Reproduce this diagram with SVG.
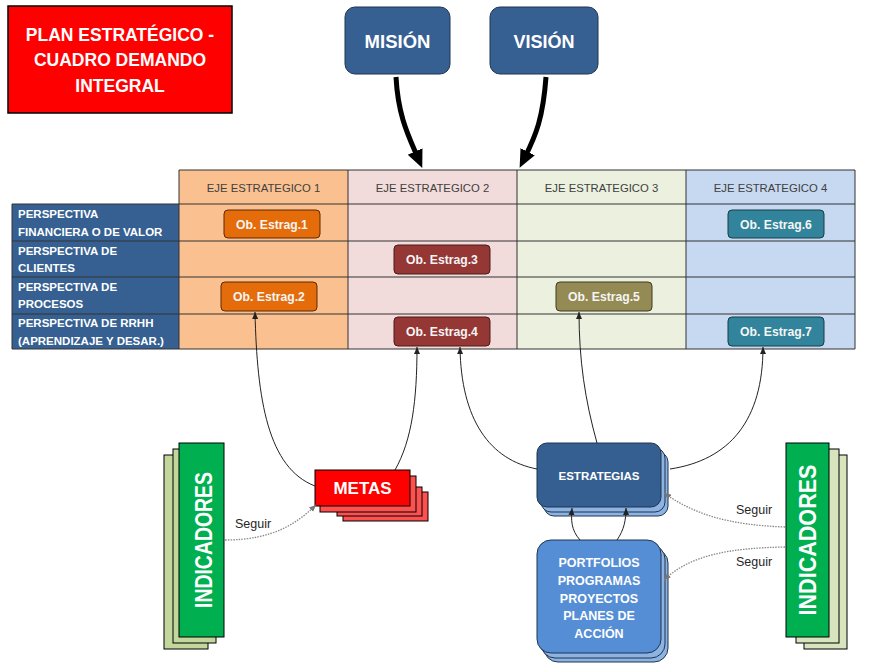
<svg xmlns="http://www.w3.org/2000/svg" width="872" height="668" viewBox="0 0 872 668">
<defs>
<marker id="big" markerUnits="userSpaceOnUse" markerWidth="18" markerHeight="18" viewBox="0 0 18 18" refX="6" refY="9" orient="auto"><path d="M0,1 L18,9 L0,17 z" fill="#000"/></marker>
<marker id="sm" markerUnits="userSpaceOnUse" markerWidth="7" markerHeight="7" viewBox="0 0 7 7" refX="7" refY="3.5" orient="auto"><path d="M0,0.5 L7,3.5 L0,6.5 z" fill="#222"/></marker>
<marker id="smg" markerUnits="userSpaceOnUse" markerWidth="7" markerHeight="7" viewBox="0 0 7 7" refX="7" refY="3.5" orient="auto"><path d="M0,0.5 L7,3.5 L0,6.5 z" fill="#777"/></marker>
<style>
text{font-family:"Liberation Sans",Arial,sans-serif}
.w{fill:#fff;font-weight:bold}
.hdr{font-size:11.3px;fill:#404040;text-anchor:middle}
.lbl{font-size:11.5px;fill:#fff;font-weight:bold}
.ob{font-size:12.2px;fill:#f5f5f5;font-weight:bold;text-anchor:middle}
.grid{stroke:#333;stroke-width:1;fill:none}
.con{fill:none;stroke:#222;stroke-width:1;marker-end:url(#sm)}
.seg{fill:none;stroke:#888;stroke-width:1.3;stroke-dasharray:1.5 1.2;marker-end:url(#smg)}
.big{fill:none;stroke:#000;stroke-width:5;marker-end:url(#big)}
.sg{font-size:12.5px;fill:#262626}
.ind{font-size:24px;fill:#fff;font-weight:bold;text-anchor:middle}
.back{fill:#8DB3E2;stroke:#1f3550;stroke-width:1}
</style>
</defs>

<g id="title">
<rect x="8" y="6" width="224" height="107" fill="#FF0000" stroke="#000" stroke-width="1.5"/>
<text class="w" font-size="17.5" x="120" y="41" text-anchor="middle">PLAN ESTRATÉGICO -</text>
<text class="w" font-size="17.5" x="120" y="66" text-anchor="middle">CUADRO DEMANDO</text>
<text class="w" font-size="17.5" x="120" y="92" text-anchor="middle">INTEGRAL</text>
</g>

<g id="mision">
<rect x="345" y="7" width="105" height="67" rx="10" fill="#376092" stroke="#1f3550" stroke-width="1"/>
<text class="w" font-size="18.5" x="397.5" y="48" text-anchor="middle">MISIÓN</text>
</g>
<g id="vision">
<rect x="490" y="7" width="108" height="67" rx="10" fill="#376092" stroke="#1f3550" stroke-width="1"/>
<text class="w" font-size="18" x="544" y="48" text-anchor="middle">VISIÓN</text>
</g>

<g id="table">
<rect x="179" y="170" width="169" height="179" fill="#FAC090"/>
<rect x="348" y="170" width="169" height="179" fill="#F2DCDB"/>
<rect x="517" y="170" width="169" height="179" fill="#EBF1DE"/>
<rect x="686" y="170" width="169" height="179" fill="#C6D9F1"/>
<rect x="12" y="204" width="167" height="145" fill="#366092"/>
<path class="grid" d="M179,170 H855 M12,204 H855 M12,241 H855 M12,277 H855 M12,314 H855 M12,349 H855 M12,204 V349 M179,170 V349 M348,170 V349 M517,170 V349 M686,170 V349 M855,170 V349"/>
<text class="hdr" x="263.5" y="192">EJE ESTRATEGICO 1</text>
<text class="hdr" x="432.5" y="192">EJE ESTRATEGICO 2</text>
<text class="hdr" x="601.5" y="192">EJE ESTRATEGICO 3</text>
<text class="hdr" x="770.5" y="192">EJE ESTRATEGICO 4</text>
<text class="lbl" x="18" y="218">PERSPECTIVA</text>
<text class="lbl" x="18" y="236">FINANCIERA O DE VALOR</text>
<text class="lbl" x="18" y="255">PERSPECTIVA DE</text>
<text class="lbl" x="18" y="272">CLIENTES</text>
<text class="lbl" x="18" y="291">PERSPECTIVA DE</text>
<text class="lbl" x="18" y="308">PROCESOS</text>
<text class="lbl" x="18" y="327">PERSPECTIVA DE RRHH</text>
<text class="lbl" x="18" y="345">(APRENDIZAJE Y DESAR.)</text>
</g>

<g id="ob1"><rect x="224" y="210" width="96" height="28" rx="4" fill="#E46C0A" stroke="#5a2a04"/><text class="ob" x="272" y="229">Ob. Estrag.1</text></g>
<g id="ob2"><rect x="221" y="282" width="96" height="29" rx="4" fill="#E46C0A" stroke="#5a2a04"/><text class="ob" x="269" y="301">Ob. Estrag.2</text></g>
<g id="ob3"><rect x="394" y="245" width="96" height="29" rx="4" fill="#953735" stroke="#4a1a19"/><text class="ob" x="442" y="264">Ob. Estrag.3</text></g>
<g id="ob4"><rect x="394" y="317" width="96" height="29" rx="4" fill="#953735" stroke="#4a1a19"/><text class="ob" x="442" y="336">Ob. Estrag.4</text></g>
<g id="ob5"><rect x="556" y="282" width="96" height="29" rx="4" fill="#948A54" stroke="#3f3a22"/><text class="ob" x="604" y="301">Ob. Estrag.5</text></g>
<g id="ob6"><rect x="728" y="210" width="96" height="28" rx="4" fill="#31849B" stroke="#163c47"/><text class="ob" x="776" y="229">Ob. Estrag.6</text></g>
<g id="ob7"><rect x="728" y="317" width="96" height="29" rx="4" fill="#31849B" stroke="#163c47"/><text class="ob" x="776" y="336">Ob. Estrag.7</text></g>

<g id="metas">
<rect x="343" y="492" width="85" height="29" fill="#FF5050" stroke="#000"/>
<rect x="337" y="487" width="85" height="29" fill="#FF5050" stroke="#000"/>
<rect x="320" y="476" width="96" height="36" fill="#FF5050" stroke="#000"/>
<rect x="315" y="470" width="95" height="36" fill="#FF0000" stroke="#000"/>
<text class="w" font-size="17" x="362.5" y="494" text-anchor="middle">METAS</text>
</g>

<g id="estrategias">
<rect class="back" x="544" y="452" width="124" height="64" rx="10"/>
<rect class="back" x="541" y="448" width="124" height="64" rx="10"/>
<rect x="537" y="443" width="124" height="64" rx="10" fill="#365F91" stroke="#1f3550"/>
<text class="w" font-size="11.5" x="599" y="480" text-anchor="middle">ESTRATEGIAS</text>
</g>

<g id="portfolios">
<rect class="back" x="544" y="549" width="124" height="113" rx="14"/>
<rect class="back" x="541" y="545" width="124" height="113" rx="14"/>
<rect x="537" y="540" width="124" height="113" rx="14" fill="#558ED5" stroke="#1f3550"/>
<text class="w" font-size="12.5" x="599" y="567" text-anchor="middle">PORTFOLIOS</text>
<text class="w" font-size="12.5" x="599" y="585" text-anchor="middle">PROGRAMAS</text>
<text class="w" font-size="12.5" x="599" y="603" text-anchor="middle">PROYECTOS</text>
<text class="w" font-size="12.5" x="599" y="620" text-anchor="middle">PLANES DE</text>
<text class="w" font-size="12.5" x="599" y="638" text-anchor="middle">ACCIÓN</text>
</g>

<g id="indicadores-left">
<rect x="164" y="455" width="44" height="194" fill="#C3D69B" stroke="#000"/>
<rect x="173" y="449" width="43" height="194" fill="#C3D69B" stroke="#000"/>
<rect x="179" y="443" width="45" height="194" fill="#00B050" stroke="#000"/>
<text class="ind" transform="translate(212,540) rotate(-90)" textLength="136" lengthAdjust="spacingAndGlyphs">INDICADORES</text>
</g>

<g id="indicadores-right">
<rect x="804" y="455" width="43" height="194" fill="#D7E4BD" stroke="#000"/>
<rect x="796" y="449" width="43" height="194" fill="#D7E4BD" stroke="#000"/>
<rect x="786" y="443" width="43" height="194" fill="#00B050" stroke="#000"/>
<text class="ind" font-size="25" transform="translate(816,540) rotate(-90)" textLength="151" lengthAdjust="spacingAndGlyphs">INDICADORES</text>
</g>

<g id="connectors">
<path class="big" d="M396,77 C398,115 408,135 417.5,157"/>
<path class="big" d="M546,77 C543,118 536,135 525,157"/>
<path class="con" d="M315,486 C268,468 257,400 255,312"/>
<path class="con" d="M395,470 C412,440 417,400 417,347"/>
<path class="con" d="M537,469 C490,460 461,420 460,347"/>
<path class="con" d="M597,443 C585,400 579,360 579,312"/>
<path class="con" d="M670,469 C730,460 763,420 763,347"/>
<path class="con" d="M580,540 C571,530 571,520 572,508"/>
<path class="con" d="M617,540 C624,530 626,520 626,508"/>
<path class="seg" d="M225,540 C275,540 298,522 316,505"/>
<path class="seg" d="M785,527 C730,525 695,515 664,493"/>
<path class="seg" d="M785,547 C730,548 690,555 664,580"/>
<text class="sg" x="235" y="528">Seguir</text>
<text class="sg" x="736" y="514">Seguir</text>
<text class="sg" x="736" y="566">Seguir</text>
</g>
</svg>
